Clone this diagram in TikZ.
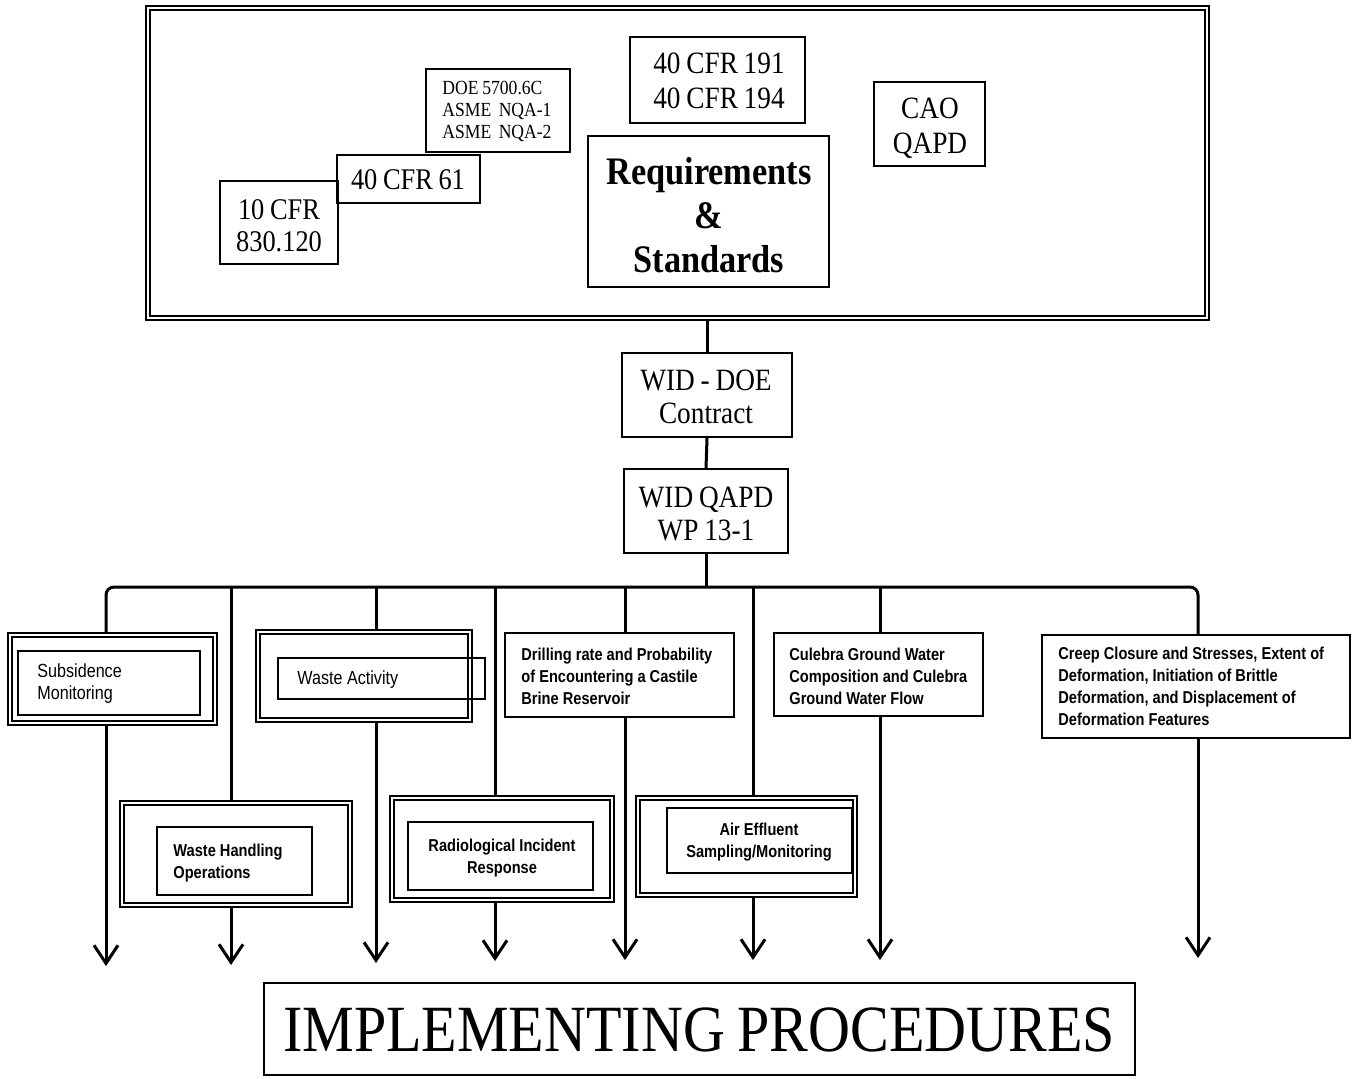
\documentclass[tikz,border=0pt]{standalone}
\usepackage{fontspec}
\setmainfont[FakeStretch=0.88,WordSpace=0.85]{Liberation Serif}
\newfontfamily\labelsans[FakeStretch=0.85]{Liberation Sans}
\usetikzlibrary{fit,arrows.meta}
\newcommand\fsz[2]{\fontsize{#1}{#2}\selectfont}
\begin{document}
\begin{tikzpicture}[x=0.5pt,y=-0.5pt,
  box/.style={draw, line width=1pt, inner sep=0pt},
  dblbox/.style={draw, double, double distance=0.9pt, line width=1.1pt, inner sep=0pt},
  txt/.style={inner sep=0pt},
  conn/.style={line width=1.5pt},
  arr/.style={line width=1.5pt, -{Straight Barb[length=9pt,width=12pt]}},
  serifmid/.style={txt, align=center, font=\fsz{15.5}{17.5}},
  sansreg/.style={txt, align=left, font=\labelsans\fsz{9.5}{11}},
  sansbold/.style={txt, align=left, font=\labelsans\bfseries\fsz{8.6}{11}},
]
\useasboundingbox (0,0) rectangle (1352,1078);

% top block
\node[dblbox, line width=1.2pt, fit={(148,8)(1207,318)}] (top) {};
\node[box, fit={(220,181)(338,264)}] (c10) {};
\node[txt, align=center, font=\fsz{15}{16}] (c10t) at (279,226) {10 CFR\\830.120};
\node[box, fit={(337,155)(480,203)}] (c61) {};
\node[txt, font=\fsz{15}{16}] (c61t) at (408,180) {40 CFR 61};
\node[box, fit={(426,69)(570,152)}] (doe) {};
\node[txt, anchor=west, align=left, font=\fsz{10}{11}] (doet) at (442,111) {DOE 5700.6C\\ASME\ \ NQA-1\\ASME\ \ NQA-2};
\node[box, fit={(630,37)(805,123)}] (c191) {};
\node[serifmid] (c191t) at (719,81) {40 CFR 191\\40 CFR 194};
\node[box, fit={(588,136)(829,287)}] (req) {};
\node[txt, align=center, font=\bfseries\fsz{19.5}{22}] (reqt) at (709,215) {Requirements\\\&\\Standards};
\node[box, fit={(874,82)(985,166)}] (cao) {};
\node[serifmid] (caot) at (930,128) {CAO\\QAPD};

% middle chain
\node[box, fit={(622,353)(792,437)}] (wid) {};
\node[txt, align=center, font=\fsz{15.5}{16.5}] (widt) at (706,397) {WID - DOE\\Contract};
\node[box, fit={(624,469)(788,553)}] (qapd) {};
\node[txt, align=center, font=\fsz{15.5}{16.5}] (qapdt) at (706,514) {WID QAPD\\WP 13-1};

% junctions and tips
\coordinate (j1) at (106,587);
\coordinate (j2) at (231,587);
\coordinate (j3) at (376,587);
\coordinate (j4) at (495,587);
\coordinate (j5) at (625,587);
\coordinate (j6) at (753,587);
\coordinate (j7) at (880,587);
\coordinate (j8) at (1198,587);
\coordinate (a1) at (106,966);
\coordinate (a2) at (231,965);
\coordinate (a3) at (376,963);
\coordinate (a4) at (495,961);
\coordinate (a5) at (625,960);
\coordinate (a6) at (753,960);
\coordinate (a7) at (880,960);
\coordinate (a8) at (1198,958);

% first row
\node[dblbox, fit={(10,635)(215,723)}] (subs) {};
\node[box, fit={(18,651)(200,715)}] (subsi) {};
\node[sansreg, anchor=west] (subst) at (37,684) {Subsidence\\Monitoring};

\node[dblbox, fit={(258,632)(470,720)}] (wa) {};
\node[box, fit={(278,658)(485,699)}] (wai) {};
\node[sansreg, anchor=west] (wat) at (297,680) {Waste Activity};

\node[box, fit={(505,633)(734,717)}] (dr) {};
\node[sansbold, anchor=west] (drt) at (521,676) {Drilling rate and Probability\\of Encountering a Castile\\Brine Reservoir};

\node[box, fit={(774,633)(983,716)}] (cu) {};
\node[sansbold, anchor=west] (cut) at (789,676) {Culebra Ground Water\\Composition and Culebra\\Ground Water Flow};

\node[box, fit={(1042,635)(1350,738)}] (cr) {};
\node[sansbold, anchor=west] (crt) at (1058,686) {Creep Closure and Stresses, Extent of\\Deformation, Initiation of Brittle\\Deformation, and Displacement of\\Deformation Features};

% second row
\node[dblbox, fit={(122,803)(350,905)}] (wh) {};
\node[box, fit={(157,827)(312,895)}] (whi) {};
\node[sansbold, anchor=west] (wht) at (173,863) {Waste Handling\\Operations};

\node[dblbox, fit={(392,798)(612,900)}] (ri) {};
\node[box, fit={(408,822)(593,890)}] (rii) {};
\node[sansbold, align=center] (rit) at (502,858) {Radiological Incident\\Response};

\node[dblbox, fit={(638,798)(855,895)}] (ae) {};
\node[box, fit={(667,808)(852,873)}] (aei) {};
\node[sansbold, align=center] (aet) at (759,842) {Air Effluent\\Sampling/Monitoring};

% bottom
\node[box, fit={(264,983)(1135,1075)}] (impl) {};
\node[txt, font=\fsz{33}{36}] (implt) at (699,1030) {IMPLEMENTING PROCEDURES};

% connectors
\draw[conn] (wid.north |- top.south) -- (wid.north);
\draw[conn] (wid.south) -- (qapd.north);
\draw[conn] (qapd.south) -- (qapd.south |- j1);
\draw[conn, rounded corners=4pt] (j1 |- subs.north) -- (j1) -- (j8) -- (j8 |- cr.north);
\draw[conn] (j2) -- (j2 |- wh.north);
\draw[conn] (j3) -- (j3 |- wa.north);
\draw[conn] (j4) -- (j4 |- ri.north);
\draw[conn] (j5) -- (j5 |- dr.north);
\draw[conn] (j6) -- (j6 |- ae.north);
\draw[conn] (j7) -- (j7 |- cu.north);

\draw[arr] (j1 |- subs.south) -- (a1);
\draw[arr] (j2 |- wh.south) -- (a2);
\draw[arr] (j3 |- wa.south) -- (a3);
\draw[arr] (j4 |- ri.south) -- (a4);
\draw[arr] (j5 |- dr.south) -- (a5);
\draw[arr] (j6 |- ae.south) -- (a6);
\draw[arr] (j7 |- cu.south) -- (a7);
\draw[arr] (j8 |- cr.south) -- (a8);
\end{tikzpicture}
\end{document}
